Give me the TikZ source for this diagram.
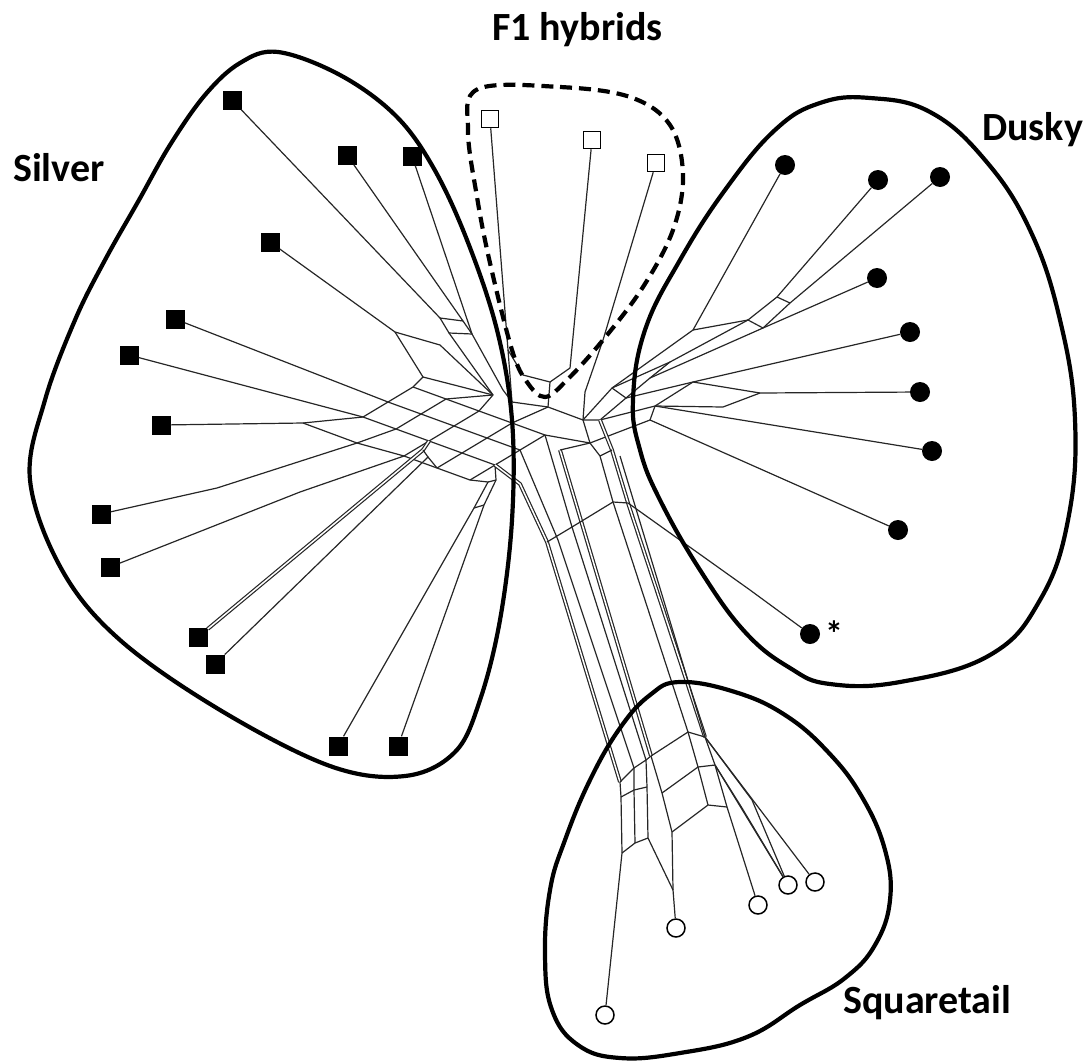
\documentclass[tikz,border=0pt]{standalone}
\usepackage{fontspec}
\setmainfont{Carlito}
\begin{document}
\begin{tikzpicture}[x=1pt, y=-1pt,
  web/.style={line width=1.2pt, black!85},
  pair/.style={web, double, double distance=1.5pt},
  hull/.style={line width=4.2pt, line join=round},
  silver/.style={fill=black, inner sep=0pt, minimum size=19pt},
  hybrid/.style={draw, line width=1.5pt, fill=white, inner sep=0pt, minimum size=17pt},
  dusky/.style={circle, fill=black, inner sep=0pt, minimum size=20pt},
  sqtail/.style={circle, draw, line width=1.5pt, fill=white, inner sep=0pt, minimum size=18pt},
  group/.style={font=\fontsize{40}{48}\selectfont\bfseries, inner sep=0pt, anchor=base west}]
  \useasboundingbox (0,0) rectangle (1091,1060);

  % leaves
  \node[silver] (s1)  at (232,100) {};
  \node[silver] (s2)  at (347,155) {};
  \node[silver] (s3)  at (412,156) {};
  \node[silver] (s4)  at (270,242) {};
  \node[silver] (s5)  at (175,319) {};
  \node[silver] (s6)  at (129,355) {};
  \node[silver] (s7)  at (161,425) {};
  \node[silver] (s8)  at (101,514) {};
  \node[silver] (s9)  at (110,567) {};
  \node[silver] (s10) at (198,637) {};
  \node[silver] (s11) at (215,664) {};
  \node[silver] (s12) at (338,746) {};
  \node[silver] (s13) at (398,746) {};
  \node[hybrid] (f1) at (490,119) {};
  \node[hybrid] (f2) at (592,140) {};
  \node[hybrid] (f3) at (656,163) {};
  \node[dusky] (d1) at (785,165) {};
  \node[dusky] (d2) at (878,180) {};
  \node[dusky] (d3) at (940,177) {};
  \node[dusky] (d4) at (877,278) {};
  \node[dusky] (d5) at (910,332) {};
  \node[dusky] (d6) at (920,392) {};
  \node[dusky] (d7) at (932,451) {};
  \node[dusky] (d8) at (898,530) {};
  \node[dusky] (d9) at (810,634) {};
  \node[sqtail] (q1) at (605,1015) {};
  \node[sqtail] (q2) at (676,928) {};
  \node[sqtail] (q3) at (758,905) {};
  \node[sqtail] (q4) at (788,885) {};
  \node[sqtail] (q5) at (815,882) {};

  % silver side of the network
  \coordinate (a1) at (440,318);
  \coordinate (a2) at (463,321);
  \coordinate (a3) at (472,334);
  \coordinate (a4) at (449,333);
  \coordinate (b1) at (395,332);
  \coordinate (b2) at (440,345);
  \coordinate (b3) at (423,377);
  \coordinate (c1) at (493,395);
  \coordinate (c2) at (503,390);
  \coordinate (g20) at (413,387);
  \coordinate (g21) at (446,399);
  \coordinate (g22) at (479,411);
  \coordinate (g23) at (512,423);
  \coordinate (g24) at (545,435);
  \coordinate (g10) at (388,402);
  \coordinate (g11) at (421,414);
  \coordinate (g12) at (454,426);
  \coordinate (g13) at (487,438);
  \coordinate (g14) at (520,450);
  \coordinate (g00) at (363,417);
  \coordinate (g01) at (396,429);
  \coordinate (g02) at (429,441);
  \coordinate (g03) at (462,453);
  \coordinate (g04) at (495,465);
  \coordinate (h1) at (404,456);
  \coordinate (h2) at (437,468);
  \coordinate (h3) at (470,480);
  \coordinate (k1) at (303,423);
  \coordinate (k2) at (357,443);
  \coordinate (m1) at (217,488);
  \coordinate (m2) at (300,492);
  \coordinate (n2) at (423,450);
  \coordinate (n3) at (428,457);
  \coordinate (r1) at (474,508);
  \coordinate (r2) at (488,482);
  \coordinate (r3) at (484,505);
  \coordinate (r4) at (496,480);
  \draw[web] (s1) -- (a1) -- (a2) -- (a3) -- (c2);
  \draw[web] (s2) -- (a2);
  \draw[web] (s3) -- (a3);
  \draw[web] (a1) -- (a4) -- (a3);
  \draw[web] (a4) -- (c1);
  \draw[web] (s4) -- (b1) -- (b2) -- (c1);
  \draw[web] (b1) -- (b3) -- (g20);
  \draw[web] (b3) -- (c1);
  \draw[web] (g00) -- (g01) -- (g02) -- (g03) -- (g04);
  \draw[web] (g10) -- (g11) -- (g12) -- (g13) -- (g14);
  \draw[web] (g20) -- (g21) -- (g22) -- (g23) -- (g24);
  \draw[web] (g00) -- (g10) -- (g20);
  \draw[web] (g01) -- (g11) -- (g21) -- (c1);
  \draw[web] (h1) -- (g02) -- (g12) -- (g22) -- (c1);
  \draw[web] (h2) -- (g03) -- (g13) -- (g23);
  \draw[web] (h3) -- (g04) -- (g14) -- (g24);
  \draw[web] (h1) -- (h2) -- (h3);
  \draw[web] (s5) -- (g10);
  \draw[web] (s6) -- (g00);
  \draw[web] (s7) -- (k1) -- (g00);
  \draw[web] (k1) -- (k2) -- (h1);
  \draw[web] (k2) -- (g01);
  \draw[web] (s8) -- (m1) -- (k2);
  \draw[web] (s9) -- (m2) -- (h1);
  \draw[pair] (s10) -- (n2) -- (g02);
  \draw[web] (s11) -- (n3) -- (h2);
  \draw[web] (n2) -- (n3);
  \draw[web] (s12) -- (r1) -- (r2) -- (h3);
  \draw[web] (s13) -- (r3) -- (r4) -- (g04);
  \draw[web] (r1) -- (r3);
  \draw[web] (r2) -- (r4);

  % hybrids and centre
  \coordinate (yf) at (508,350);
  \coordinate (y1) at (512,402);
  \coordinate (y2) at (570,368);
  \coordinate (y3) at (603,340);
  \coordinate (y4) at (585,392);
  \coordinate (y5) at (523,375);
  \coordinate (y6) at (550,382);
  \coordinate (y7) at (548,407);
  \coordinate (x1) at (583,420);
  \coordinate (x2) at (600,420);
  \coordinate (x3) at (590,443);
  \draw[web] (f1) -- (yf) -- (y1);
  \draw[web] (yf) -- (y5) -- (y6) -- (y2) -- (f2);
  \draw[web] (y6) -- (y7);
  \draw[web] (f3) -- (y3) -- (y4) -- (x1);
  \draw[web] (c2) -- (y1) -- (y7) -- (x1) -- (x2);
  \draw[web] (g23) -- (y7);
  \draw[web] (g24) -- (x3) -- (x1);

  % dusky side
  \coordinate (e1) at (693,330);
  \coordinate (e2) at (748,320);
  \coordinate (e3) at (763,328);
  \coordinate (e4) at (777,297);
  \coordinate (e5) at (790,303);
  \coordinate (e6) at (693,382);
  \coordinate (e7) at (760,393);
  \coordinate (e8) at (723,407);
  \coordinate (e9) at (650,420);
  \coordinate (e10) at (655,406);
  \coordinate (x5) at (612,388);
  \coordinate (x6) at (626,398);
  \coordinate (x7) at (650,378);
  \coordinate (x8) at (670,362);
  \draw[web] (d1) -- (e1) -- (x5) -- (x1);
  \draw[web] (d2) -- (e4) -- (e2) -- (e3);
  \draw[web] (d3) -- (e5) -- (e3);
  \draw[web] (e4) -- (e5);
  \draw[web] (d4) -- (e3) -- (x7) -- (x6);
  \draw[web] (e1) -- (e2);
  \draw[web] (e2) -- (x8) -- (x5);
  \draw[web] (x8) -- (x7);
  \draw[web] (x5) -- (x6) -- (x2);
  \draw[web] (d5) -- (e6) -- (x6);
  \draw[web] (d6) -- (e7) -- (e6);
  \draw[web] (e7) -- (e8) -- (e10);
  \draw[web] (e6) -- (e10);
  \draw[web] (d7) -- (e10) -- (x2);
  \draw[web] (d8) -- (e9) -- (x3);
  \draw[web] (e10) -- (e9);

  % stem to squaretail
  \coordinate (t4) at (560,450);
  \coordinate (la1) at (520,484);
  \coordinate (w3) at (547,542);
  \coordinate (la2) at (620,782);
  \coordinate (la4) at (621,797);
  \coordinate (la3) at (622,853);
  \coordinate (lb1) at (558,540);
  \coordinate (lb2) at (634,768);
  \coordinate (lb4) at (634,790);
  \coordinate (lb3) at (635,843);
  \coordinate (w4) at (572,527);
  \coordinate (lc2) at (646,760);
  \coordinate (lc4) at (647,787);
  \coordinate (lc3) at (648,838);
  \coordinate (ld1) at (651,756);
  \coordinate (ld2) at (662,793);
  \coordinate (ld3) at (672,832);
  \coordinate (ld4) at (673,890);
  \coordinate (ra0) at (600,456);
  \coordinate (rb0) at (612,450);
  \coordinate (rc0) at (620,456);
  \coordinate (w2) at (613,502);
  \coordinate (w1) at (628,503);
  \coordinate (dv) at (750,590);
  \coordinate (k1b) at (688,732);
  \coordinate (k2b) at (705,737);
  \coordinate (k3b) at (698,767);
  \coordinate (k4b) at (715,765);
  \coordinate (k5b) at (708,805);
  \coordinate (k6b) at (727,807);
  \coordinate (qa) at (752,800);
  \coordinate (qb) at (742,808);
  \draw[pair] (g04) -- (la1) -- (w3) -- (la2);
  \draw[web] (la2) -- (la4) -- (la3) -- (q1);
  \draw[web] (g14) -- (lb1) -- (lb2) -- (lb4) -- (lb3);
  \draw[web] (g24) -- (w4) -- (lc2) -- (lc4) -- (lc3) -- (ld4);
  \draw[pair] (t4) -- (ld1);
  \draw[web] (ld1) -- (ld2) -- (ld3) -- (ld4) -- (q2);
  \draw[web] (x3) -- (t4);
  \draw[web] (la2) -- (lb2) -- (lc2) -- (ld1);
  \draw[web] (la4) -- (lb4) -- (lc4);
  \draw[web] (la3) -- (lb3) -- (lc3);
  \draw[web] (x3) -- (ra0) -- (w2) -- (k1b);
  \draw[pair] (x2) -- (rb0) -- (w1) -- (k2b);
  \draw[web] (ra0) -- (rb0);
  \draw[web] (rc0) -- (k2b);
  \draw[web] (w3) -- (w4) -- (w2) -- (w1) -- (dv) -- (d9);
  \draw[web] (ld1) -- (k1b) -- (k2b);
  \draw[web] (ld2) -- (k3b) -- (k4b);
  \draw[web] (ld3) -- (k5b) -- (k6b);
  \draw[web] (k1b) -- (k3b) -- (k5b);
  \draw[web] (k2b) -- (k4b) -- (k6b);
  \draw[web] (k6b) -- (q3);
  \draw[web] (k4b) -- (q4);
  \draw[web] (k4b) -- (qb) -- (q4);
  \draw[web] (k2b) -- (qa) -- (q4);
  \draw[web] (k2b) -- (q5);

  % group outlines
  \draw[hull] plot[smooth cycle, tension=0.6] coordinates {(278,52) (340,75) (395,115)
    (433,167) (467,240) (497,330) (512,420) (512,520) (500,620) (480,700) (455,752)
    (405,776) (330,766) (220,710) (120,640) (62,570) (30,480) (45,400) (75,320)
    (105,260) (139,200) (170,145) (205,95) (240,63)};
  \draw[hull] plot[smooth cycle, tension=0.7] coordinates {(870,98) (930,112) (985,160)
    (1030,230) (1060,320) (1075,420) (1068,520) (1040,600) (990,655) (900,682)
    (830,684) (790,668) (745,632) (700,570) (660,500) (640,450) (633,400) (645,330)
    (680,260) (725,190) (775,130) (820,103)};
  \draw[hull, dash pattern=on 12pt off 7pt] plot[smooth cycle, tension=0.6] coordinates {
    (478,89) (560,87) (630,97) (670,125) (683,175) (673,230) (643,287) (603,340)
    (567,380) (545,397) (527,382) (512,350) (490,263) (477,197) (468,130)};
  \draw[hull] plot[smooth cycle, tension=0.7] coordinates {(680,682) (735,692)
    (785,715) (828,752) (862,797) (885,850) (890,900) (875,945) (845,978) (800,1005)
    (747,1037) (680,1053) (620,1058) (578,1045) (552,1010) (545,955) (550,890)
    (565,840) (590,780) (620,728) (650,695)};

  % labels
  \node[group] (silverlab) at (13,181) {Silver};
  \node[group] (f1lab) at (492,40) {F1 hybrids};
  \node[group] (duskylab) at (982,140) {Dusky};
  \node[group] (sqlab) at (843,1013) {Squaretail};
  \node[font=\fontsize{36}{40}\selectfont\bfseries, inner sep=0pt] (star) at (834,634) {*};
\end{tikzpicture}
\end{document}
